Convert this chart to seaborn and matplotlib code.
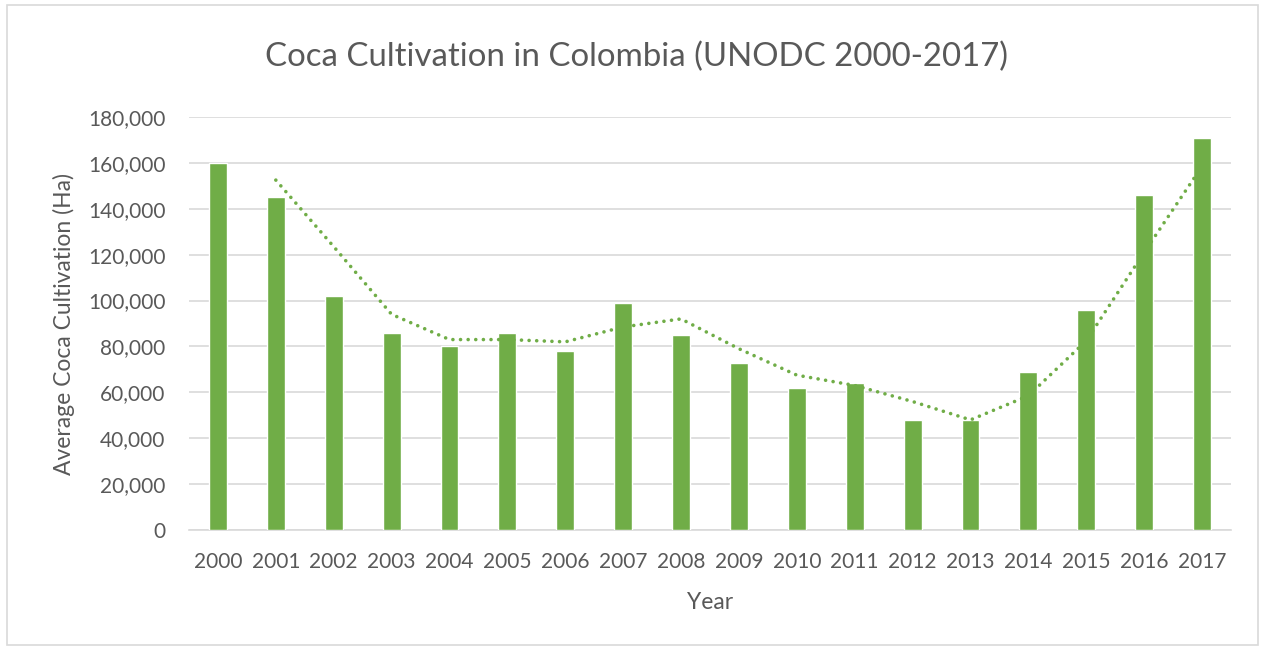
import pandas as pd
import numpy as np
import matplotlib
matplotlib.use("Agg")
import matplotlib.pyplot as plt
import seaborn as sns
from matplotlib.ticker import FuncFormatter
from matplotlib.patches import Rectangle

# data (hectares)
years = [str(y) for y in range(2000, 2018)]
hectares = [160000, 145000, 102000, 86000, 80000, 86000, 78000, 99000, 85000,
            73000, 62000, 64000, 48000, 48000, 69000, 96000, 146000, 171000]

df = pd.DataFrame({"year": years, "ha": hectares})
# Excel style 2-period moving average trendline
df["trend"] = df["ha"].rolling(2).mean()

green = "#70ad47"
grey_txt = "#595959"
grid_c = "#d9d9d9"

sns.set_style("white")
plt.rcParams["font.family"] = ["Lato", "DejaVu Sans"]

fig = plt.figure(figsize=(12.65, 6.5), dpi=100)
ax = fig.add_axes([0.1494, 0.1846, 0.8237, 0.6354])

sns.barplot(data=df, x="year", y="ha", color=green, width=0.31,
            saturation=1, ax=ax, zorder=3)
sns.lineplot(x=np.arange(len(df)), y=df["trend"], ax=ax, color=green,
             linewidth=2.6, zorder=4)
ln = ax.lines[-1]
ln.set_linestyle((0, (0.01, 2.1)))
ln.set_dash_capstyle("round")

ax.set_ylim(0, 180000)
ax.set_xlim(-0.5, len(df) - 0.5)
ax.set_yticks(range(0, 180001, 20000))
ax.yaxis.set_major_formatter(FuncFormatter(lambda v, p: "{:,.0f}".format(v)))
ax.grid(axis="y", color=grid_c, linewidth=1.2, zorder=0)
ax.set_axisbelow(True)
for s in ["left", "right", "top"]:
    ax.spines[s].set_visible(False)
ax.spines["bottom"].set_color(grid_c)
ax.spines["bottom"].set_linewidth(1.2)
ax.tick_params(axis="both", length=0, labelsize=15, colors=grey_txt)
ax.tick_params(axis="y", pad=17)
ax.tick_params(axis="x", pad=16)

ax.set_xlabel("Year", fontsize=16.5, color=grey_txt, labelpad=14)
ax.set_ylabel("Average Coca Cultivation (Ha)", fontsize=16.5, color=grey_txt, labelpad=9)
fig.text(0.503, 0.912, "Coca Cultivation in Colombia (UNODC 2000-2017)",
         ha="center", va="center", fontsize=23.8, color=grey_txt)

# chart area border
fig.patches.append(Rectangle((0.0055, 0.008), 0.989, 0.984, transform=fig.transFigure,
                             fill=False, edgecolor=grid_c, linewidth=1.2))

fig.savefig("out.png", dpi=100, facecolor="white")
